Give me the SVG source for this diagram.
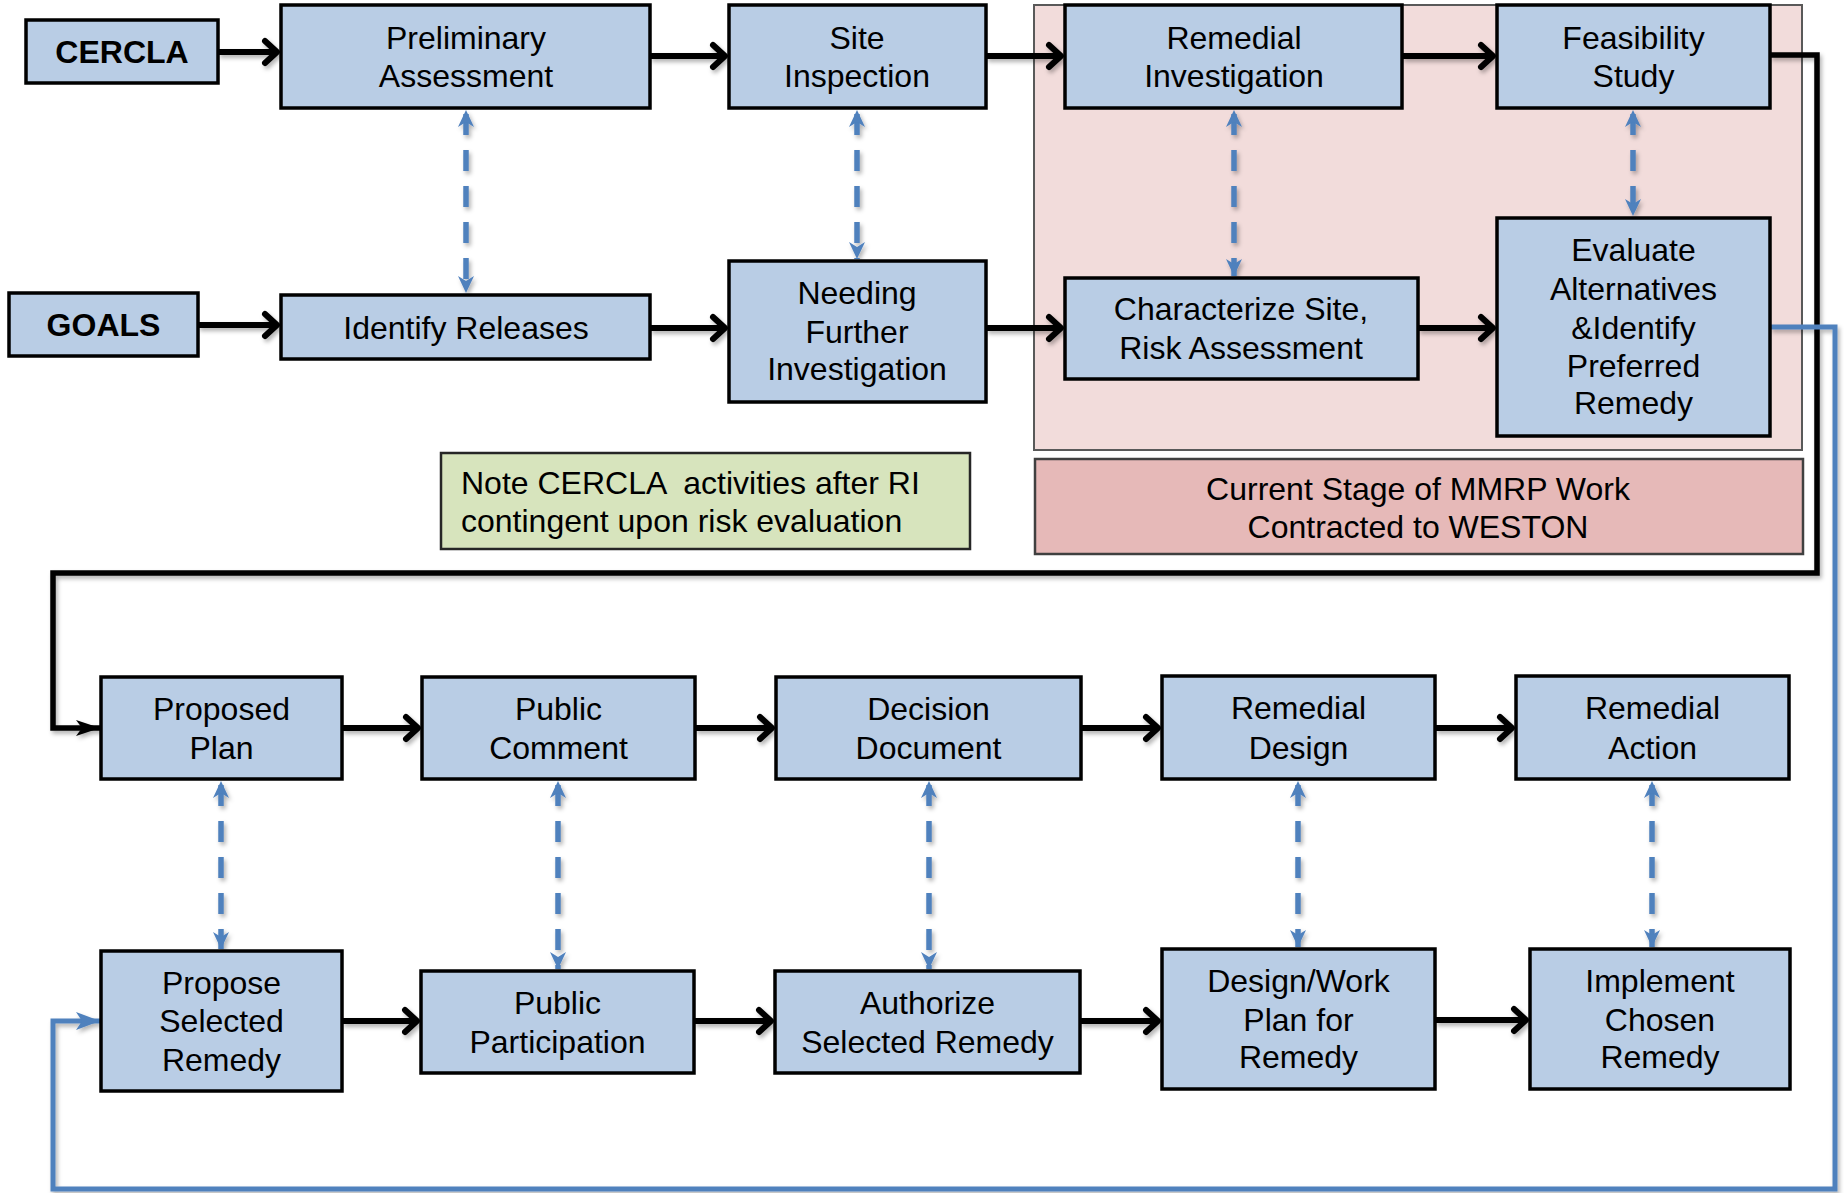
<svg xmlns="http://www.w3.org/2000/svg" width="1844" height="1193" viewBox="0 0 1844 1193">
<style>
.n{fill:#b9cde5;stroke:#000;stroke-width:3.5}
.t{font-family:"Liberation Sans",Arial,sans-serif;font-size:32px;fill:#000;text-anchor:middle}
.b{font-weight:bold}
.k{fill:none;stroke:#000;stroke-width:6;marker-end:url(#ah)}
.d{fill:none;stroke:#4f81bd;stroke-width:5.5;stroke-dasharray:21 15;stroke-dashoffset:-4;marker-start:url(#bh);marker-end:url(#bh)}
</style>
<defs>
<filter id="sh" x="-5%" y="-5%" width="110%" height="110%">
<feDropShadow dx="2" dy="3" stdDeviation="2" flood-color="#000" flood-opacity="0.3"/>
</filter>
<marker id="ah" markerUnits="userSpaceOnUse" markerWidth="34" markerHeight="36" viewBox="-18 -18 22 36" refX="0" refY="0" orient="auto">
<path d="M-12,-11 L0,0 L-12,11" fill="none" stroke="#000" stroke-width="6" stroke-linecap="round" stroke-linejoin="round"/>
</marker>
<marker id="ah2" markerUnits="userSpaceOnUse" markerWidth="30" markerHeight="24" viewBox="-26 -12 28 24" refX="0" refY="0" orient="auto">
<path d="M0,0 L-24,-8 L-18,0 L-24,8 Z" fill="#000"/>
</marker>
<marker id="bh" markerUnits="userSpaceOnUse" markerWidth="24" markerHeight="24" viewBox="-20 -12 24 24" refX="0" refY="0" orient="auto-start-reverse">
<path d="M0,0 L-17,-8 L-12,0 L-17,8 Z" fill="#4f81bd"/>
</marker>
<marker id="bh2" markerUnits="userSpaceOnUse" markerWidth="30" markerHeight="24" viewBox="-26 -12 28 24" refX="0" refY="0" orient="auto">
<path d="M0,0 L-24,-9 L-18,0 L-24,9 Z" fill="#4f81bd"/>
</marker>
</defs>
<rect width="1844" height="1193" fill="#fff"/>

<g id="stage-area">
<rect x="1034" y="5" width="768" height="445" fill="#f2dcdb" stroke="#595959" stroke-width="2"/>
</g>
<g id="current-stage">
<rect x="1035" y="459" width="768" height="95" fill="#e6b9b8" stroke="#404040" stroke-width="2.5"/>
<text class="t" x="1418" y="500">Current Stage of MMRP Work</text>
<text class="t" x="1418" y="538">Contracted to WESTON</text>
</g>
<g id="note">
<rect x="441" y="453" width="529" height="96" fill="#d7e4bd" stroke="#262626" stroke-width="2.5"/>
<text class="t" x="461" y="494" style="text-anchor:start" xml:space="preserve">Note CERCLA  activities after RI</text>
<text class="t" x="461" y="532" style="text-anchor:start">contingent upon risk evaluation</text>
</g>

<g id="connectors" filter="url(#sh)">
<path class="k" d="M218,52 H277"/>
<path class="k" d="M650,56 H725"/>
<path class="k" d="M986,56 H1061"/>
<path class="k" d="M1402,56 H1493"/>
<path class="k" d="M198,325 H277"/>
<path class="k" d="M650,328 H725"/>
<path class="k" d="M986,328 H1061"/>
<path class="k" d="M1418,328 H1493"/>
<path class="k" d="M342,728 H418"/>
<path class="k" d="M695,728 H772"/>
<path class="k" d="M1081,728 H1158"/>
<path class="k" d="M1435,728 H1512"/>
<path class="k" d="M342,1021 H417"/>
<path class="k" d="M694,1021 H771"/>
<path class="k" d="M1080,1021 H1158"/>
<path class="k" d="M1435,1020 H1526"/>
<path d="M1770,55 H1817 V573 H53 V728 H100" fill="none" stroke="#000" stroke-width="5.5" stroke-linejoin="miter" marker-end="url(#ah2)"/>
<path d="M1770,327 H1835 V1189 H53 V1021 H100" fill="none" stroke="#4f81bd" stroke-width="5" marker-end="url(#bh2)"/>
<path class="d" d="M466,110 V293"/>
<path class="d" d="M857,110 V259"/>
<path class="d" d="M1234,110 V276"/>
<path class="d" d="M1633,110 V216"/>
<path class="d" d="M221,781 V949"/>
<path class="d" d="M558,781 V969"/>
<path class="d" d="M929,781 V969"/>
<path class="d" d="M1298,781 V947"/>
<path class="d" d="M1652,781 V947"/>
</g>

<g id="cercla"><rect class="n" x="26" y="20" width="192" height="63"/><text class="t b" x="122" y="63">CERCLA</text></g>
<g id="goals"><rect class="n" x="9" y="293" width="189" height="63"/><text class="t b" x="103.5" y="336">GOALS</text></g>
<g id="preliminary-assessment"><rect class="n" x="281" y="5" width="369" height="103"/><text class="t" x="466" y="49">Preliminary</text><text class="t" x="466" y="87">Assessment</text></g>
<g id="identify-releases"><rect class="n" x="281" y="295" width="369" height="64"/><text class="t" x="466" y="339">Identify Releases</text></g>
<g id="site-inspection"><rect class="n" x="729" y="5" width="257" height="103"/><text class="t" x="857" y="49">Site</text><text class="t" x="857" y="87">Inspection</text></g>
<g id="needing-further-investigation"><rect class="n" x="729" y="261" width="257" height="141"/><text class="t" x="857" y="304">Needing</text><text class="t" x="857" y="343">Further</text><text class="t" x="857" y="380">Investigation</text></g>
<g id="remedial-investigation"><rect class="n" x="1065" y="5" width="337" height="103"/><text class="t" x="1234" y="49">Remedial</text><text class="t" x="1234" y="87">Investigation</text></g>
<g id="feasibility-study"><rect class="n" x="1497" y="5" width="273" height="103"/><text class="t" x="1633.5" y="49">Feasibility</text><text class="t" x="1633.5" y="87">Study</text></g>
<g id="characterize-site"><rect class="n" x="1065" y="278" width="353" height="101"/><text class="t" x="1241" y="320">Characterize Site,</text><text class="t" x="1241" y="359">Risk Assessment</text></g>
<g id="evaluate-alternatives"><rect class="n" x="1497" y="218" width="273" height="218"/><text class="t" x="1633.5" y="261">Evaluate</text><text class="t" x="1633.5" y="300">Alternatives</text><text class="t" x="1633.5" y="339">&amp;Identify</text><text class="t" x="1633.5" y="377">Preferred</text><text class="t" x="1633.5" y="414">Remedy</text></g>

<g id="proposed-plan"><rect class="n" x="101" y="677" width="241" height="102"/><text class="t" x="221.5" y="720">Proposed</text><text class="t" x="221.5" y="759">Plan</text></g>
<g id="public-comment"><rect class="n" x="422" y="677" width="273" height="102"/><text class="t" x="558.5" y="720">Public</text><text class="t" x="558.5" y="759">Comment</text></g>
<g id="decision-document"><rect class="n" x="776" y="677" width="305" height="102"/><text class="t" x="928.5" y="720">Decision</text><text class="t" x="928.5" y="759">Document</text></g>
<g id="remedial-design"><rect class="n" x="1162" y="676" width="273" height="103"/><text class="t" x="1298.5" y="719">Remedial</text><text class="t" x="1298.5" y="759">Design</text></g>
<g id="remedial-action"><rect class="n" x="1516" y="676" width="273" height="103"/><text class="t" x="1652.5" y="719">Remedial</text><text class="t" x="1652.5" y="759">Action</text></g>
<g id="propose-selected-remedy"><rect class="n" x="101" y="951" width="241" height="140"/><text class="t" x="221.5" y="994">Propose</text><text class="t" x="221.5" y="1032">Selected</text><text class="t" x="221.5" y="1071">Remedy</text></g>
<g id="public-participation"><rect class="n" x="421" y="971" width="273" height="102"/><text class="t" x="557.5" y="1014">Public</text><text class="t" x="557.5" y="1053">Participation</text></g>
<g id="authorize-selected-remedy"><rect class="n" x="775" y="971" width="305" height="102"/><text class="t" x="927.5" y="1014">Authorize</text><text class="t" x="927.5" y="1053">Selected Remedy</text></g>
<g id="design-work-plan"><rect class="n" x="1162" y="949" width="273" height="140"/><text class="t" x="1298.5" y="992">Design/Work</text><text class="t" x="1298.5" y="1031">Plan for</text><text class="t" x="1298.5" y="1068">Remedy</text></g>
<g id="implement-chosen-remedy"><rect class="n" x="1530" y="949" width="260" height="140"/><text class="t" x="1660" y="992">Implement</text><text class="t" x="1660" y="1031">Chosen</text><text class="t" x="1660" y="1068">Remedy</text></g>
</svg>
